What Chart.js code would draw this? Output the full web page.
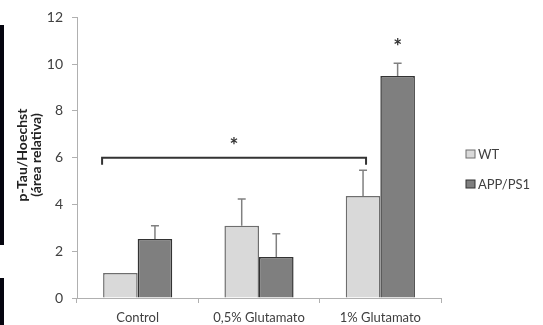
<!DOCTYPE html>
<html>
<head>
<meta charset="utf-8">
<script src="https://cdn.jsdelivr.net/npm/chart.js@4"></script>
<style>
    html, body { margin: 0; padding: 0; background: #fff; }
    #wrap { position: relative; width: 543px; height: 325px; }
    .strip { position: absolute; left: 0; width: 4px; background: #05050f; }
</style>
</head>
<body>
<div id="wrap">
    <canvas id="chart" width="543" height="325"></canvas>
    <div class="strip" style="top:25px;height:220px;"></div>
    <div class="strip" style="top:278px;height:47px;"></div>
</div>
<script>
// data
const categories = ['Control', '0,5% Glutamato', '1% Glutamato'];
const wtValues = [1.07, 3.09, 4.36];
const wtErrors = [0, 1.14, 1.10];
const appValues = [2.52, 1.75, 9.49];
const appErrors = [0.57, 1.00, 0.55];
const yTicks = [0, 2, 4, 6, 8, 10, 12];
const bracketLevel = 6.0;
const bracketDrop = 0.3;
const starLabel = '*';

const textColor = '#404040';
const fontFamily = 'Lato, "Liberation Sans", sans-serif';

const errorBars = {
    id: 'errorBars',
    afterDatasetsDraw(chart) {
        const ctx = chart.ctx;
        const y = chart.scales.y;
        const errs = [wtErrors, appErrors];
        ctx.save();
        ctx.strokeStyle = '#808080';
        ctx.lineWidth = 1.5;
        chart.data.datasets.forEach((ds, i) => {
            const meta = chart.getDatasetMeta(i);
            meta.data.forEach((bar, j) => {
                const e = errs[i][j];
                if (!e) return;
                const top = y.getPixelForValue(ds.data[j] + e);
                ctx.beginPath();
                ctx.moveTo(bar.x, bar.y);
                ctx.lineTo(bar.x, top);
                ctx.moveTo(bar.x - 4, top);
                ctx.lineTo(bar.x + 4, top);
                ctx.stroke();
            });
        });
        ctx.restore();
    }
};

const annotations = {
    id: 'annotations',
    afterDraw(chart) {
        const ctx = chart.ctx;
        const y = chart.scales.y;
        const wtMeta = chart.getDatasetMeta(0);
        const appMeta = chart.getDatasetMeta(1);
        const first = wtMeta.data[0];
        const last = wtMeta.data[2];
        const x1 = first.x - first.width / 2 - 1;
        const x2 = last.x + 3;
        const yb = y.getPixelForValue(bracketLevel);
        const yd = y.getPixelForValue(bracketLevel - bracketDrop);

        ctx.save();
        ctx.strokeStyle = '#333';
        ctx.lineWidth = 2;
        ctx.beginPath();
        ctx.moveTo(x1, yd);
        ctx.lineTo(x1, yb);
        ctx.lineTo(x2, yb);
        ctx.lineTo(x2, yd);
        ctx.stroke();

        ctx.fillStyle = '#333';
        ctx.font = 'bold 21px ' + fontFamily;
        ctx.textAlign = 'center';
        ctx.textBaseline = 'middle';
        ctx.fillText(starLabel, (x1 + x2) / 2, yb - 11);
        const tall = appMeta.data[2];
        const topVal = appValues[2] + appErrors[2];
        ctx.fillText(starLabel, tall.x, y.getPixelForValue(topVal) - 16);

        // y axis title
        ctx.fillStyle = '#222';
        ctx.font = 'bold 14px ' + fontFamily;
        ctx.translate(0, 155);
        ctx.rotate(-Math.PI / 2);
        ctx.fillText('p-Tau/Hoechst', 0, 22);
        ctx.fillText('(área relativa)', 0, 36);
        ctx.restore();

        // legend
        ctx.save();
        ctx.font = '13px ' + fontFamily;
        ctx.textBaseline = 'middle';
        ctx.textAlign = 'left';
        chart.data.datasets.forEach((ds, i) => {
            const cy = 154 + i * 30;
            ctx.fillStyle = ds.backgroundColor;
            ctx.fillRect(466, cy - 4, 9, 8);
            ctx.strokeStyle = ds.borderColor;
            ctx.lineWidth = 1;
            ctx.strokeRect(466, cy - 4, 9, 8);
            ctx.fillStyle = textColor;
            ctx.fillText(ds.label, 478, cy + 1);
        });
        ctx.restore();
    }
};

new Chart(document.getElementById('chart'), {
    type: 'bar',
    data: {
        labels: categories,
        datasets: [
            {
                label: 'WT',
                data: wtValues,
                backgroundColor: '#d9d9d9',
                borderColor: '#6e6e6e',
                borderWidth: 1.5,
                borderSkipped: 'bottom'
            },
            {
                label: 'APP/PS1',
                data: appValues,
                backgroundColor: '#7f7f7f',
                borderColor: '#333333',
                borderWidth: 1.5,
                borderSkipped: 'bottom'
            }
        ]
    },
    options: {
        responsive: false,
        animation: false,
        layout: { padding: { top: 17, right: 102, left: 0, bottom: 0 } },
        datasets: { bar: { categoryPercentage: 0.57, barPercentage: 1 } },
        plugins: {
            legend: { display: false },
            tooltip: { enabled: false }
        },
        scales: {
            x: {
                afterFit: (s) => { s.height = 27; },
                border: { color: '#b0b0b0', width: 1 },
                grid: { offset: true, drawOnChartArea: false, tickLength: 5, color: '#b0b0b0' },
                ticks: { color: textColor, padding: 7, font: { family: fontFamily, size: 13 } }
            },
            y: {
                min: 0,
                max: 12,
                afterFit: (s) => { s.width = 77; },
                afterBuildTicks: (s) => { s.ticks = yTicks.map(v => ({ value: v })); },
                border: { color: '#b0b0b0', width: 1 },
                grid: { drawOnChartArea: false, tickLength: 5, color: '#b0b0b0' },
                ticks: { color: textColor, padding: 9, font: { family: fontFamily, size: 14 } }
            }
        }
    },
    plugins: [errorBars, annotations]
});
</script>
</body>
</html>
